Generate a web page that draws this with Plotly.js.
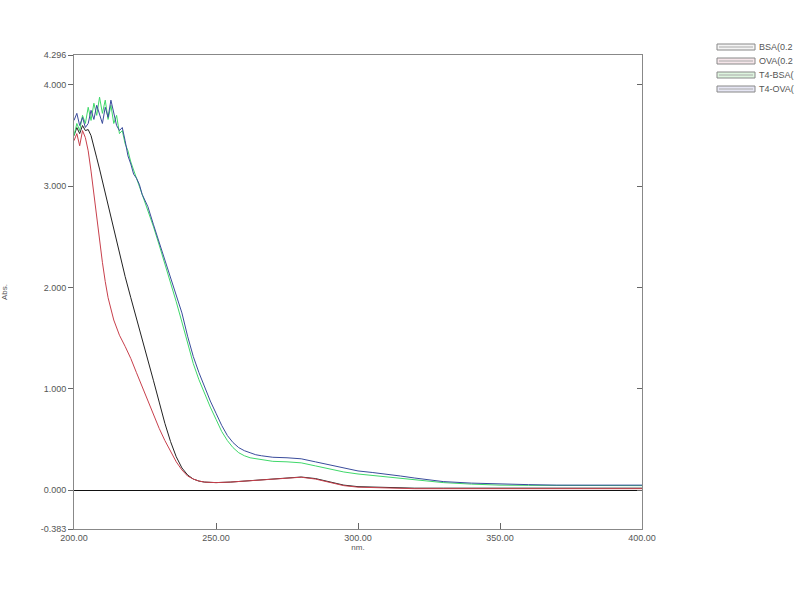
<!DOCTYPE html>
<html>
<head>
<meta charset="utf-8">
<script src="https://cdn.plot.ly/plotly-3.0.1.min.js"></script>
<style>html,body{margin:0;padding:0;background:#fff;}#chart{width:800px;height:600px;}</style>
</head>
<body>
<div id="chart"></div>
<script>
// Wavelengths (nm) and absorbance values
const bsaX = [200,201,202,203,204,205,206,207,208,209,210,212,214,216,218,220,222,224,226,228,230,232,234,236,238,240,242,244,246,248,250,255,260,265,270,275,280,285,290,295,300,305,310,320,330,340,350,360,370,380,390,400];
const bsaY = [3.50,3.58,3.52,3.60,3.55,3.56,3.50,3.40,3.28,3.17,3.05,2.82,2.58,2.34,2.11,1.90,1.70,1.50,1.29,1.08,0.87,0.66,0.48,0.33,0.22,0.15,0.11,0.09,0.08,0.075,0.075,0.08,0.09,0.10,0.115,0.125,0.13,0.115,0.08,0.05,0.035,0.03,0.025,0.02,0.02,0.02,0.02,0.02,0.02,0.02,0.02,0.02];

const ovaX = [200,201,202,203,204,205,206,207,208,209,210,211,212,214,216,218,220,222,224,226,228,230,232,234,236,238,240,242,244,246,248,250,255,260,265,270,275,280,285,290,295,300,305,310,320,330,340,350,360,370,380,390,400];
const ovaY = [3.45,3.52,3.40,3.55,3.48,3.35,3.15,2.92,2.68,2.45,2.25,2.06,1.90,1.68,1.53,1.42,1.30,1.16,1.02,0.88,0.74,0.61,0.49,0.38,0.28,0.20,0.14,0.11,0.09,0.08,0.075,0.075,0.08,0.09,0.10,0.115,0.125,0.128,0.11,0.075,0.045,0.03,0.025,0.02,0.015,0.015,0.015,0.015,0.015,0.015,0.015,0.015,0.015];

const t4X = [200,201,202,203,204,205,206,207,208,209,210,211,212,213,214,215,216,217,218,219,220,221,222,223,224,226,228,230,232,234,236,238,240,242,244,246,248,250,252,254,256,258,260,262,264,266,268,270,275,280,285,290,295,300,305,310,315,320,325,330,340,350,360,370,380,390,400];
const t4bsaY = [3.50,3.62,3.55,3.70,3.62,3.78,3.65,3.82,3.70,3.88,3.72,3.85,3.66,3.80,3.62,3.70,3.52,3.55,3.42,3.35,3.24,3.15,3.08,3.00,2.92,2.78,2.60,2.42,2.24,2.05,1.86,1.66,1.44,1.25,1.09,0.95,0.82,0.70,0.58,0.49,0.42,0.37,0.34,0.32,0.31,0.30,0.29,0.285,0.28,0.27,0.24,0.21,0.18,0.16,0.145,0.13,0.115,0.10,0.085,0.075,0.06,0.05,0.048,0.046,0.045,0.045,0.045];
const t4ovaY = [3.65,3.72,3.60,3.68,3.58,3.62,3.75,3.66,3.80,3.70,3.62,3.78,3.68,3.85,3.72,3.60,3.55,3.58,3.45,3.30,3.22,3.12,3.08,3.02,2.92,2.80,2.62,2.45,2.28,2.10,1.93,1.75,1.52,1.32,1.16,1.02,0.88,0.76,0.64,0.54,0.47,0.42,0.39,0.37,0.35,0.34,0.33,0.325,0.32,0.31,0.28,0.25,0.22,0.19,0.175,0.16,0.14,0.12,0.10,0.085,0.07,0.06,0.055,0.05,0.05,0.05,0.05];

const names = ["BSA(0.2", "OVA(0.2", "T4-BSA(", "T4-OVA("];
const colors = ["#222222", "#c8404c", "#3fd86a", "#3a4c9c"];
const swatchFills = ["#f4f4f4", "#f6e6ea", "#def5df", "#e6e6f4"];

const yTickVals = [-0.383, 0, 1, 2, 3, 4, 4.296];
const yTickText = ["-0.383", "0.000", "1.000", "2.000", "3.000", "4.000", "4.296"];
const xTickVals = [200, 250, 300, 350, 400];
const xTickText = ["200.00", "250.00", "300.00", "350.00", "400.00"];

const series = [[bsaX, bsaY], [ovaX, ovaY], [t4X, t4bsaY], [t4X, t4ovaY]];
const traces = series.map((s, i) => ({
  x: s[0], y: s[1], name: names[i], type: "scatter", mode: "lines",
  line: {color: colors[i], width: 1}, showlegend: false
}));
// invisible helper on the right axis so its inside ticks are drawn
traces.push({x: [200], y: [0], yaxis: "y2", mode: "markers", marker: {opacity: 0}, showlegend: false, hoverinfo: "skip"});

const fnt = {family: "Liberation Sans, Arial, sans-serif", size: 9, color: "#555"};

// legend drawn as boxed swatches + labels (page pixel geometry)
const ML = 74, MT = 55, PW = 568, PH = 474;
const px2x = p => (p - ML) / PW;
const py2y = p => (MT + PH - p) / PH;
const shapes = [], annotations = [];
names.forEach((n, i) => {
  const cy = 47 + i * 14;
  shapes.push({type: "rect", xref: "paper", yref: "paper",
    x0: px2x(717), x1: px2x(755), y0: py2y(cy + 3), y1: py2y(cy - 3),
    line: {color: "#888", width: 1}, fillcolor: swatchFills[i]});
  shapes.push({type: "line", xref: "paper", yref: "paper",
    x0: px2x(719), x1: px2x(753), y0: py2y(cy), y1: py2y(cy),
    line: {color: "#aaa", width: 1}});
  annotations.push({xref: "paper", yref: "paper", x: px2x(757), y: py2y(cy),
    xanchor: "left", yanchor: "middle", showarrow: false, text: n,
    font: {family: fnt.family, size: 9, color: "#555"}});
});

const layout = {
  width: 800, height: 600,
  margin: {l: ML, r: 800 - ML - PW, t: MT, b: 600 - MT - PH},
  paper_bgcolor: "#fff", plot_bgcolor: "#fff",
  font: fnt,
  showlegend: false,
  shapes: shapes, annotations: annotations,
  xaxis: {
    range: [200, 400], tickvals: xTickVals, ticktext: xTickText,
    ticks: "inside", ticklen: 6, tickcolor: "#666", tickwidth: 1,
    showline: true, linecolor: "#888", linewidth: 1, mirror: true,
    showgrid: false, zeroline: false,
    tickfont: {family: fnt.family, size: 9, color: "#555"},
    title: {text: "nm.", font: {family: fnt.family, size: 8, color: "#555"}, standoff: 0}
  },
  yaxis: {
    range: [-0.383, 4.296], tickvals: yTickVals, ticktext: yTickText,
    ticks: "outside", ticklen: 5, tickcolor: "#666", tickwidth: 1,
    showline: true, linecolor: "#888", linewidth: 1, mirror: true,
    showgrid: false, zeroline: true, zerolinecolor: "#111", zerolinewidth: 1,
    tickfont: {family: fnt.family, size: 9, color: "#555"},
    title: {text: "Abs.", font: {family: fnt.family, size: 8, color: "#555"}, standoff: 40}
  },
  yaxis2: {
    overlaying: "y", side: "right", range: [-0.383, 4.296], tickvals: [0, 1, 2, 3, 4],
    ticks: "inside", ticklen: 5, tickcolor: "#666", showticklabels: false,
    showline: false, showgrid: false, zeroline: false
  }
};

Plotly.newPlot("chart", traces, layout, {staticPlot: true, displayModeBar: false});
</script>
</body>
</html>
